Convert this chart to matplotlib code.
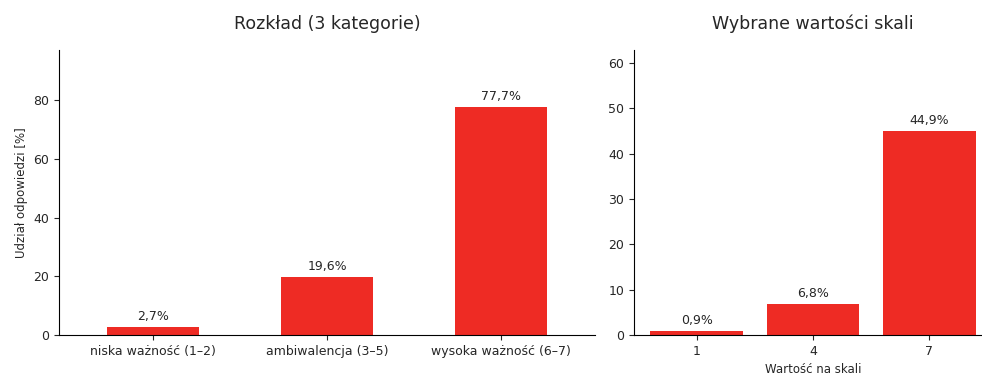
import matplotlib.pyplot as plt

# category shares
cat_labels = ['niska ważność (1–2)', 'ambiwalencja (3–5)', 'wysoka ważność (6–7)']
cat_values = [2.7, 19.6, 77.7]

# selected scale points
scale_labels = ['1', '4', '7']
scale_values = [0.9, 6.8, 44.9]

bar_color = '#ee2b24'
text_color = '#262626'

plt.rcParams['font.family'] = 'DejaVu Sans'
plt.rcParams['text.color'] = text_color
plt.rcParams['axes.labelcolor'] = text_color
plt.rcParams['xtick.color'] = text_color
plt.rcParams['ytick.color'] = text_color

fig = plt.figure(figsize=(9.82, 3.78), dpi=100)
W, H = 982, 378
ax1 = fig.add_axes([59 / W, 1 - 335 / H, (595 - 59) / W, (335 - 50) / H])
ax2 = fig.add_axes([634 / W, 1 - 335 / H, (992 - 634) / W, (335 - 50) / H])


def fmt(v):
    return f'{v:.1f}%'.replace('.', ',')


def draw(ax, labels, values, width, title, top):
    x = range(len(values))
    bars = ax.bar(x, values, width=width, color=bar_color)
    for b, v in zip(bars, values):
        ax.annotate(fmt(v), (b.get_x() + b.get_width() / 2, v),
                    xytext=(0, 3), textcoords='offset points',
                    ha='center', va='bottom', fontsize=9)
    ax.set_xticks(list(x))
    ax.set_xticklabels(labels, fontsize=9)
    ax.tick_params(axis='y', labelsize=9)
    ax.set_xlim(-0.54, 2.54)
    ax.set_ylim(0, top)
    ax.set_title(title, fontsize=12.5, pad=15)
    for s in ['top', 'right']:
        ax.spines[s].set_visible(False)


draw(ax1, cat_labels, cat_values, 0.53, 'Rozkład (3 kategorie)', max(cat_values) * 1.25)
ax1.set_yticks([0, 20, 40, 60, 80])
ax1.set_ylabel('Udział odpowiedzi [%]', fontsize=8.5)

draw(ax2, scale_labels, scale_values, 0.8, 'Wybrane wartości skali', max(scale_values) * 1.4)
ax2.set_yticks([0, 10, 20, 30, 40, 50, 60])
ax2.set_xlabel('Wartość na skali', fontsize=8.5)

fig.savefig('out.png', dpi=100)
